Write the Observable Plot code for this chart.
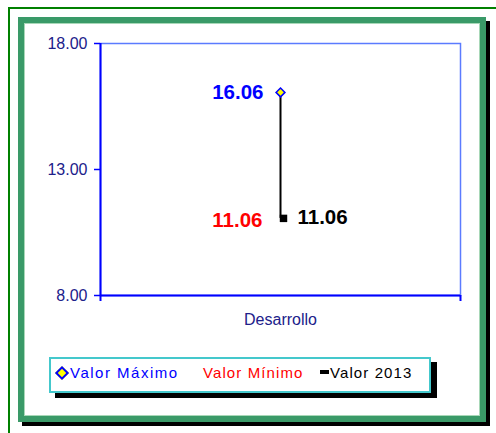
<!DOCTYPE html>
<html>
<head>
<meta charset="utf-8">
<script src="https://cdn.jsdelivr.net/npm/d3@7"></script>
<script src="https://cdn.jsdelivr.net/npm/@observablehq/plot@0.6"></script>
<style>
  html, body { margin: 0; padding: 0; background: #fff; width: 496px; height: 433px; overflow: hidden; }
  body { position: relative; font-family: "Liberation Sans", Arial, sans-serif; }
  #outer { position: absolute; left: 8px; top: 7px; width: 700px; height: 700px; border-left: 2px solid #008000; border-top: 2px solid #008000; }
  #frame { position: absolute; left: 18px; top: 17px; width: 456px; height: 393px; border: 6px solid #3a9a68; box-shadow: 4px 4px 0 #000, inset 1px 1px 0 #a8d8b8, inset -1px -1px 0 #a8d8b8; background: #fff; }
  #chart { position: absolute; left: 0; top: 0; }
  #legend { position: absolute; left: 49px; top: 357px; width: 378px; height: 32px; border: 2px solid #44c8cc; background: #fff; box-shadow: 6px 5px 0 #000; }
  .lg { position: absolute; top: 364px; font-size: 15px; line-height: 17px; letter-spacing: 1.1px; white-space: nowrap; }
  #ldiam { position: absolute; left: 57px; top: 368px; width: 6px; height: 6px; background: #ffff00; border: 2px solid #0000ff; transform: rotate(45deg); }
  #ldash { position: absolute; left: 320px; top: 370px; width: 9px; height: 4px; background: #000; }
</style>
</head>
<body>
<div id="outer"></div>
<div id="frame"></div>
<div id="chart"></div>
<div id="legend"></div>
<div id="ldiam"></div>
<div id="ldash"></div>
<div class="lg" id="l0" style="left:70px;color:#0000ff;letter-spacing:1.5px"></div>
<div class="lg" id="l1" style="left:203px;color:#ff0000"></div>
<div class="lg" id="l2" style="left:330px;color:#000"></div>
<script>
const categories = ["Desarrollo"];
const maxValues = [16.06];
const minValues = [11.06];
const values2013 = [11.06];
const yTicks = [8, 13, 18];
const yDomain = [8, 18];
const legendLabels = ["Valor Máximo", "Valor Mínimo", "Valor 2013"];

const data = categories.map((c, i) => ({i, cat: c, max: maxValues[i], min: minValues[i], v: values2013[i]}));
const fmt = d => d.toFixed(2);
const font = "Liberation Sans, Arial, sans-serif";

const chart = Plot.plot({
  width: 496,
  height: 340,
  marginLeft: 100,
  marginRight: 36,
  marginTop: 43,
  marginBottom: 45,
  style: {fontFamily: font, background: "transparent", overflow: "visible"},
  x: {domain: [-0.5, categories.length - 0.5], axis: null},
  y: {domain: yDomain, axis: null},
  marks: [
    Plot.frame({stroke: "#5b7bff", strokeWidth: 1.5}),
    Plot.ruleX([-0.5], {stroke: "#0000ff", strokeWidth: 2}),
    Plot.ruleY([yDomain[0]], {stroke: "#0000ff", strokeWidth: 2}),
    Plot.axisY({ticks: yTicks, tickSize: 6, tickFormat: () => "", stroke: "#0000ff", strokeWidth: 1.5, label: null}),
    Plot.axisY({ticks: yTicks, tickSize: 0, tickPadding: 13, tickFormat: fmt, fill: "#20208a", fontSize: 16, label: null}),
    Plot.axisX({ticks: [-0.5, categories.length - 0.5], tickSize: 6, tickFormat: () => "", stroke: "#0000ff", strokeWidth: 2, label: null}),
    Plot.axisX({ticks: categories.map((c, i) => i), tickSize: 0, tickPadding: 18, tickFormat: i => categories[i], fill: "#20208a", fontSize: 16, label: null}),
    Plot.ruleX(data, {x: "i", y1: "min", y2: "max", stroke: "#000", strokeWidth: 2}),
    Plot.dot(data, {x: "i", y: "max", symbol: "diamond2", r: 4, fill: "#ffff00", stroke: "#0000ff", strokeWidth: 1.5}),
    Plot.dot(data, {x: "i", y: "v", symbol: "square", r: 4.2, fill: "#000", stroke: null, dx: 3}),
    Plot.text(data, {x: "i", y: "max", text: d => fmt(d.max), textAnchor: "end", dx: -17, fill: "#0000ff", fontWeight: "bold", fontSize: 20.5}),
    Plot.text(data, {x: "i", y: "min", text: d => fmt(d.min), textAnchor: "end", dx: -18, dy: 2, fill: "#ff0000", fontWeight: "bold", fontSize: 20.5}),
    Plot.text(data, {x: "i", y: "v", text: d => fmt(d.v), textAnchor: "start", dx: 17, dy: -1, fill: "#000", fontWeight: "bold", fontSize: 20.5})
  ]
});
document.getElementById("chart").appendChild(chart);
legendLabels.forEach((t, k) => { document.getElementById("l" + k).textContent = t; });
</script>
</body>
</html>
